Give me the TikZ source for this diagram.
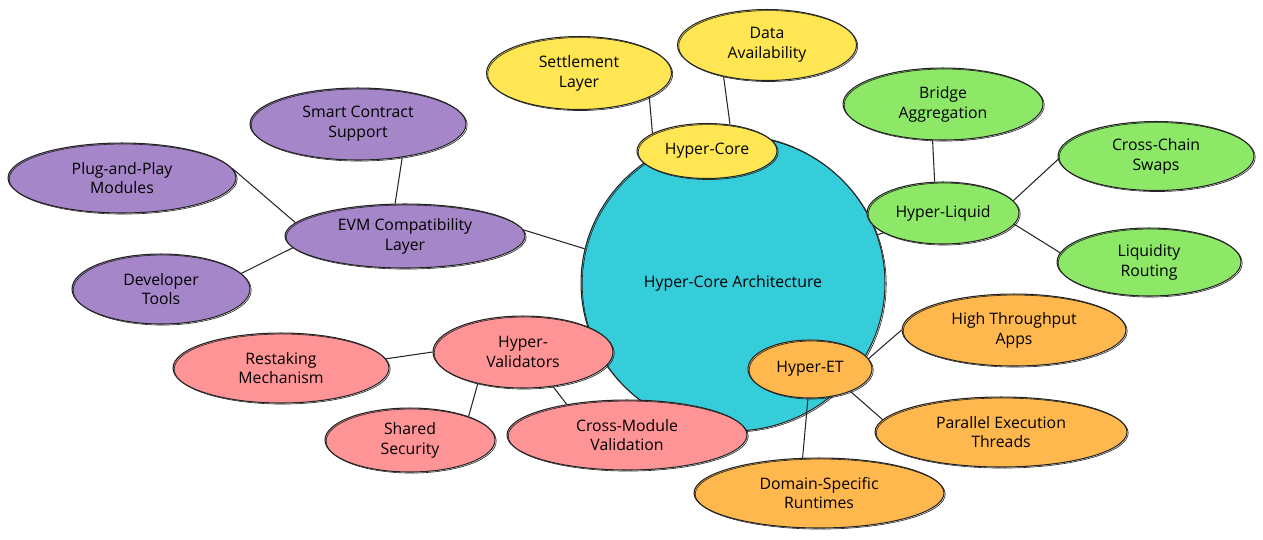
\documentclass[tikz,border=0pt]{standalone}
\usepackage{fontspec}
\setmainfont{Open Sans}
\usetikzlibrary{shapes.geometric,backgrounds}

\definecolor{rootcol}{RGB}{54,205,219}
\definecolor{yelcol}{RGB}{255,230,82}
\definecolor{grncol}{RGB}{142,232,104}
\definecolor{orgcol}{RGB}{255,184,77}
\definecolor{redcol}{RGB}{255,148,150}
\definecolor{purcol}{RGB}{165,134,200}

\tikzset{
  bubble/.style={ellipse, draw=black!85, line width=0.6pt, inner sep=1pt, align=center,
    font=\fontsize{9}{11.3}\selectfont,
    postaction={draw=black!85, line width=0.35pt, transform canvas={xshift=0.7pt,yshift=-0.6pt}}},
  yel/.style={bubble, fill=yelcol},
  grn/.style={bubble, fill=grncol},
  org/.style={bubble, fill=orgcol},
  red/.style={bubble, fill=redcol},
  pur/.style={bubble, fill=purcol},
  link/.style={draw=black!85, line width=0.6pt}
}

\begin{document}
\begin{tikzpicture}[x=0.02cm,y=-0.02cm]
    \useasboundingbox (0,0) rectangle (1263,539);
    \node (root) at (733,283) [bubble, fill=rootcol, minimum width=6.08cm, minimum height=5.92cm] {Hyper-Core Architecture};

    \node (hc) at (707,151) [yel, minimum width=2.8cm, minimum height=1.1cm] {Hyper-Core};
    \node (sl) at (579,73) [yel, minimum width=3.7cm, minimum height=1.46cm] {Settlement\\Layer};
    \node (da) at (767,45) [yel, minimum width=3.58cm, minimum height=1.42cm] {Data\\Availability};

    \node (hl) at (943,213) [grn, minimum width=3.04cm, minimum height=1.24cm] {Hyper-Liquid};
    \node (br) at (943,104) [grn, minimum width=4.0cm, minimum height=1.44cm] {Bridge\\Aggregation};
    \node (ccs) at (1156,156) [grn, minimum width=3.92cm, minimum height=1.38cm] {Cross-Chain\\Swaps};
    \node (lr) at (1149,262) [grn, minimum width=3.68cm, minimum height=1.36cm] {Liquidity\\Routing};

    \node (het) at (810,369) [org, minimum width=2.48cm, minimum height=1.16cm] {Hyper-ET};
    \node (hta) at (1014,330) [org, minimum width=4.48cm, minimum height=1.44cm] {High Throughput\\Apps};
    \node (pet) at (1001,432) [org, minimum width=5.04cm, minimum height=1.4cm] {Parallel Execution\\Threads};
    \node (dsr) at (819,493) [org, minimum width=5.0cm, minimum height=1.4cm] {Domain-Specific\\Runtimes};

    \node (hv) at (523,352) [red, minimum width=3.6cm, minimum height=1.44cm] {Hyper-\\Validators};
    \node (rm) at (281,368) [red, minimum width=4.32cm, minimum height=1.4cm] {Restaking\\Mechanism};
    \node (ss) at (410,440) [red, minimum width=3.4cm, minimum height=1.28cm] {Shared\\Security};
    \node (cmv) at (627,435) [red, minimum width=4.8cm, minimum height=1.4cm] {Cross-Module\\Validation};

    \node (evm) at (405,236) [pur, minimum width=4.8cm, minimum height=1.28cm] {EVM Compatibility\\Layer};
    \node (scs) at (358,124) [pur, minimum width=4.32cm, minimum height=1.44cm] {Smart Contract\\Support};
    \node (pp) at (122,178) [pur, minimum width=4.56cm, minimum height=1.4cm] {Plug-and-Play\\Modules};
    \node (dt) at (161,289) [pur, minimum width=3.56cm, minimum height=1.4cm] {Developer\\Tools};

    \begin{scope}[on background layer]
    \draw[link] (root.center) -- (hc.center);
    \draw[link] (root.center) -- (hl.center);
    \draw[link] (root.center) -- (het.center);
    \draw[link] (root.center) -- (hv.center);
    \end{scope}
    \draw[link] (root.167) -- (evm.3);
    \draw[link] (sl.-19) -- (hc.162);
    \draw[link] (da.216) -- (hc.49);
    \draw[link] (br.-106) -- (hl.105);
    \draw[link] (hl.10) -- (ccs.182);
    \draw[link] (hl.-9) -- (lr.174);
    \draw[link] (het.10) -- (hta.180);
    \draw[link] (het.-29) -- (pet.174);
    \draw[link] (het.-94) -- (dsr.115);
    \draw[link] (hv.180) -- (rm.5);
    \draw[link] (hv.-145) -- (ss.22);
    \draw[link] (hv.-49) -- (cmv.153);
    \draw[link] (evm.107) -- (scs.-37);
    \draw[link] (evm.173) -- (pp.5);
    \draw[link] (evm.186) -- (dt.11);
\end{tikzpicture}
\end{document}
